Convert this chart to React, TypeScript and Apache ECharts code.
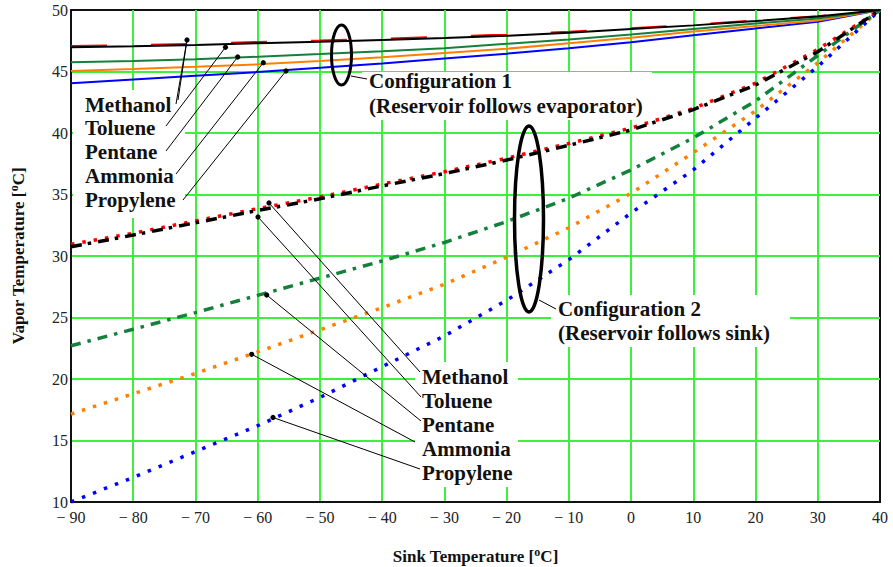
import React, { useEffect, useRef } from "react";
import * as echarts from "echarts";

// Sink temperature (x) in °C
const sinkT = [-90, -80, -70, -60, -50, -40, -30, -20, -10, 0, 10, 20, 30, 40];

// Configuration 1 (Reservoir follows evaporator) – vapor temperature °C
const methanol1 = [47.07, 47.15, 47.25, 47.4, 47.52, 47.67, 47.83, 48.0, 48.23, 48.52, 48.8, 49.15, 49.5, 50];
const toluene1 = [46.97, 47.05, 47.15, 47.3, 47.42, 47.57, 47.73, 47.9, 48.15, 48.45, 48.75, 49.1, 49.48, 50];
const pentane1 = [45.75, 45.85, 46.0, 46.2, 46.42, 46.65, 46.9, 47.25, 47.6, 48.0, 48.45, 48.9, 49.3, 50];
const ammonia1 = [45.05, 45.2, 45.38, 45.58, 45.85, 46.15, 46.5, 46.85, 47.3, 47.75, 48.25, 48.7, 49.15, 50];
const propylene1 = [44.05, 44.35, 44.65, 44.95, 45.3, 45.65, 46.05, 46.45, 46.9, 47.38, 47.95, 48.5, 49.05, 50];

// Configuration 2 (Reservoir follows sink)
const methanol2 = [30.95, 31.85, 32.85, 33.85, 34.8, 35.85, 36.85, 37.95, 39.15, 40.4, 42.0, 44.05, 46.8, 50];
const toluene2 = [30.75, 31.7, 32.7, 33.7, 34.65, 35.7, 36.7, 37.8, 39.0, 40.25, 41.9, 43.9, 46.6, 50];
const pentane2 = [22.7, 24.05, 25.4, 26.8, 28.2, 29.6, 31.1, 32.8, 34.7, 37.0, 39.6, 42.6, 46.3, 50];
const ammonia2 = [17.15, 18.8, 20.45, 22.2, 24.0, 25.8, 27.7, 29.9, 32.3, 35.1, 38.4, 41.8, 45.7, 50];
const propylene2 = [10.0, 12.0, 14.1, 16.2, 18.5, 21.0, 23.5, 26.4, 29.7, 33.5, 37.0, 41.2, 45.4, 50];

const fluidNames = ["Methanol", "Toluene", "Pentane", "Ammonia", "Propylene"];
const config1Title = ["Configuration 1", "(Reservoir follows evaporator)"];
const config2Title = ["Configuration 2", "(Reservoir follows sink)"];

const SERIF = "Liberation Serif";
const RED = "#ff0000";
const BLACK = "#000000";
const GREEN = "#14803c";
const ORANGE = "#ff8000";
const BLUE = "#0000ff";

const zip = (ys: number[]) => sinkT.map((x, i) => [x, ys[i]]);

export default function App() {
  const ref = useRef<HTMLDivElement>(null);

  useEffect(() => {
    document.body.style.margin = "0";
    if (!ref.current) return;
    const chart = echarts.init(ref.current, null, { renderer: "svg" });

    const lineSeries = (name: string, ys: number[], color: string, type: any, width: number) => ({
      name,
      type: "line",
      data: zip(ys),
      showSymbol: false,
      smooth: false,
      lineStyle: { color, width, type, cap: "butt" },
      z: 3,
    });

    const txt = (x: number, y: number, text: string, size = 21) => ({
      type: "text",
      x,
      y,
      z: 10,
      style: {
        text,
        fill: "#111",
        fontFamily: SERIF,
        fontWeight: "bold",
        fontSize: size,
        textAlign: "left",
        textVerticalAlign: "middle",
        align: "left",
        verticalAlign: "middle",
      },
    });
    const leader = (x1: number, y1: number, x2: number, y2: number) => ({
      type: "line",
      z: 9,
      shape: { x1, y1, x2, y2 },
      style: { stroke: "#000", lineWidth: 1 },
    });
    const dot = (cx: number, cy: number) => ({
      type: "circle",
      z: 9,
      shape: { cx, cy, r: 2.6 },
      style: { fill: "#000" },
    });
    const blank = (x: number, y: number, w: number, h: number) => ({
      type: "rect",
      z: 1,
      shape: { x, y, width: w, height: h },
      style: { fill: "#fff" },
    });

    const lab1Y = [104.5, 128.3, 152.1, 175.9, 199.7];
    const lab2Y = [377, 401, 425, 449, 473];
    const dots1 = [[187, 40], [225.5, 47.3], [237.7, 57], [263.3, 62.7], [286, 71]];
    const ends1 = [[178, 100], [166, 126], [166, 151], [176, 174], [183, 200]];
    const dots2 = [[269, 203], [258, 217], [266.7, 295], [251.7, 354.3], [273, 417.5]];
    const ends2 = [[420, 372], [421, 397], [421, 421], [415, 442], [420, 469]];

    const graphics: any[] = [
      blank(73, 90, 112, 128),
      blank(362, 72, 290, 48),
      blank(551, 295, 239, 52),
      blank(415, 362, 103, 125),
      { type: "ellipse", z: 9, shape: { cx: 341.5, cy: 55, rx: 10, ry: 30 }, style: { fill: "none", stroke: "#000", lineWidth: 3 } },
      leader(351, 76, 367, 79),
      txt(369, 81, config1Title[0]),
      txt(369, 106, config1Title[1]),
      { type: "ellipse", z: 9, shape: { cx: 529, cy: 219, rx: 14.5, ry: 93 }, style: { fill: "none", stroke: "#000", lineWidth: 3.5 } },
      leader(539, 300, 556, 309),
      txt(558, 309, config2Title[0]),
      txt(558, 333, config2Title[1]),
      leader(187, 40, 176, 104),
    ];
    fluidNames.forEach((n, i) => {
      graphics.push(txt(85, lab1Y[i], n));
      graphics.push(leader(ends1[i][0], ends1[i][1], dots1[i][0], dots1[i][1]));
      graphics.push(dot(dots1[i][0], dots1[i][1]));
      graphics.push(txt(422, lab2Y[i], n));
      graphics.push(leader(ends2[i][0], ends2[i][1], dots2[i][0], dots2[i][1]));
      graphics.push(dot(dots2[i][0], dots2[i][1]));
    });

    const nameStyle = {
      fontFamily: SERIF,
      fontWeight: "bold",
      fontSize: 17,
      color: "#111",
      rich: {
        s: { fontFamily: SERIF, fontWeight: "bold", fontSize: 12, color: "#111", padding: [0, 0, 9, 0] },
      },
    };

    chart.setOption({
      animation: false,
      backgroundColor: "#fff",
      grid: {
        left: 71,
        right: 13,
        top: 10,
        bottom: 65,
        containLabel: false,
        outerBoundsMode: "none",
        show: true,
        borderColor: "#111",
        borderWidth: 2,
        backgroundColor: "transparent",
      },
      xAxis: {
        type: "value",
        min: -90,
        max: 40,
        interval: 10,
        name: "Sink Temperature [{s|o}C]",
        nameLocation: "middle",
        nameGap: 44,
        nameTextStyle: nameStyle,
        axisLine: { show: true, onZero: false, lineStyle: { color: "#111", width: 2 } },
        axisTick: { show: false },
        axisLabel: {
          margin: 7,
          fontFamily: SERIF,
          fontSize: 16,
          color: "#222",
          formatter: (v: number) => (v < 0 ? "\u2212 " + Math.abs(v) : String(v)),
        },
        splitLine: { show: true, showMinLine: false, showMaxLine: false, lineStyle: { color: "#3cf03c", width: 2 } },
      },
      yAxis: {
        type: "value",
        min: 10,
        max: 50,
        interval: 5,
        name: "Vapor Temperature [{s|o}C]",
        nameLocation: "middle",
        nameGap: 42,
        nameTextStyle: nameStyle,
        axisLine: { show: true, onZero: false, lineStyle: { color: "#111", width: 2 } },
        axisTick: { show: false },
        axisLabel: { margin: 3, fontFamily: SERIF, fontSize: 16, color: "#222" },
        splitLine: { show: true, showMinLine: false, showMaxLine: false, lineStyle: { color: "#3cf03c", width: 2 } },
      },
      series: [
        lineSeries("Propylene (config 2)", propylene2, BLUE, [3.5, 8.3], 3.5),
        lineSeries("Ammonia (config 2)", ammonia2, ORANGE, [3.5, 8], 3.5),
        lineSeries("Pentane (config 2)", pentane2, GREEN, [10, 7, 3.5, 7], 3.5),
        lineSeries("Methanol (config 2)", methanol2, RED, [3.5, 8], 3.5),
        lineSeries("Toluene (config 2)", toluene2, BLACK, [11, 6, 3.5, 7], 3.5),
        lineSeries("Propylene (config 1)", propylene1, BLUE, "solid", 2),
        lineSeries("Ammonia (config 1)", ammonia1, ORANGE, "solid", 2),
        lineSeries("Pentane (config 1)", pentane1, GREEN, "solid", 2),
        lineSeries("Methanol (config 1)", methanol1, RED, [36, 44], 2),
        lineSeries("Toluene (config 1)", toluene1, BLACK, "solid", 2),
      ],
      graphic: { elements: graphics },
    });

    return () => chart.dispose();
  }, []);

  return <div ref={ref} style={{ width: 893, height: 567 }} />;
}
